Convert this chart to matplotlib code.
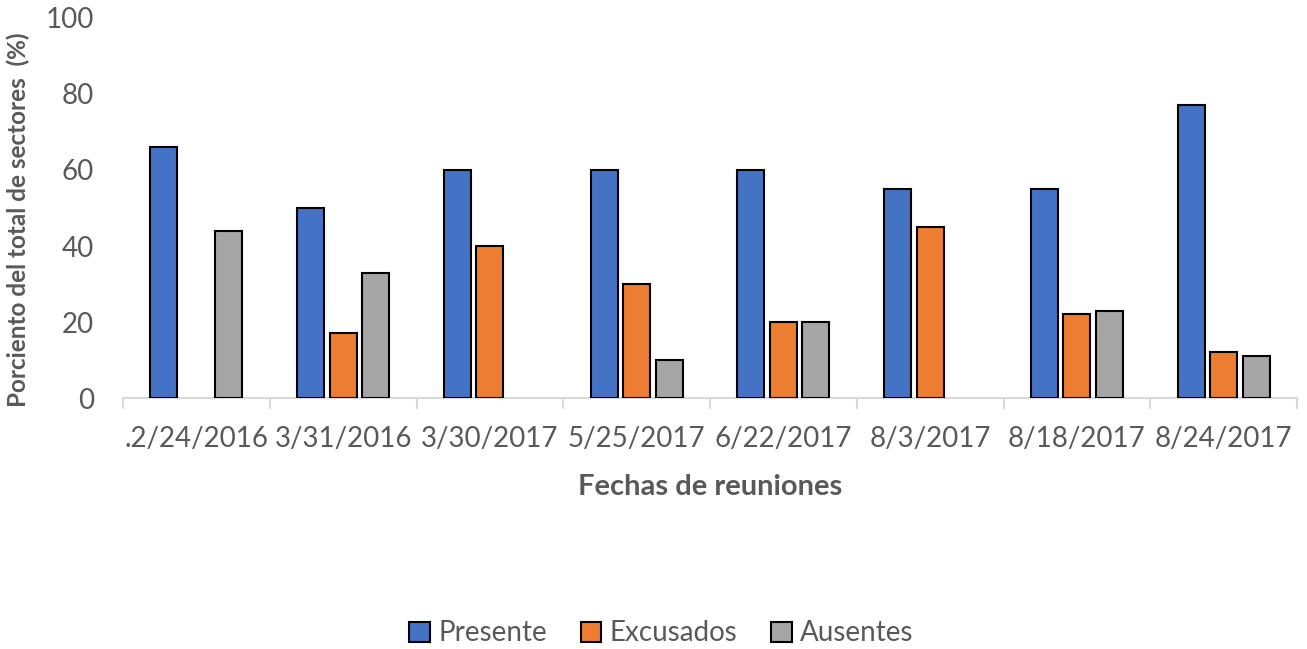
import numpy as np
from matplotlib import pyplot as plt

fechas = ['.2/24/2016', '3/31/2016', '3/30/2017', '5/25/2017',
          '6/22/2017', '8/3/2017', '8/18/2017', '8/24/2017']
presente = [66, 50, 60, 60, 60, 55, 55, 77]
excusados = [0, 17, 40, 30, 20, 45, 22, 12]
ausentes = [44, 33, 0, 10, 20, 0, 23, 11]

series = [('Presente', presente, '#4472C4'),
          ('Excusados', excusados, '#ED7D31'),
          ('Ausentes', ausentes, '#A5A5A5')]

plt.rcParams['font.family'] = ['Lato', 'DejaVu Sans']

fig = plt.figure(figsize=(13.07, 6.49), dpi=100)
ax = fig.add_axes([0.0941, 0.3867, 0.8983, 0.5856])

x = np.arange(len(fechas))
w = 0.184
step = 0.2215
for i, (name, vals, col) in enumerate(series):
    vals = np.array(vals, dtype=float)
    keep = vals > 0
    ax.bar(x[keep] + (i - 1) * step, vals[keep], width=w, color=col,
           edgecolor='black', linewidth=1.5, label=name, zorder=3)

ax.set_xlim(-0.5, len(fechas) - 0.5)
ax.set_ylim(0, 100)
ax.set_yticks(range(0, 101, 20))
ax.set_xticks(x)
ax.set_xticklabels(fechas)
ax.set_xticks(np.arange(len(fechas) + 1) - 0.5, minor=True)

for s in ['top', 'right', 'left']:
    ax.spines[s].set_visible(False)
ax.spines['bottom'].set_color('#d9d9d9')
ax.spines['bottom'].set_linewidth(1.5)

ax.tick_params(axis='x', which='major', length=0, pad=20, labelsize=20, labelcolor='#595959')
ax.tick_params(axis='x', which='minor', length=8, width=1.5, color='#d9d9d9')
ax.tick_params(axis='y', length=0, pad=21, labelsize=20, labelcolor='#595959')

ax.set_xlabel('Fechas de reuniones', fontsize=21, fontweight='bold', color='#595959', labelpad=16)
ax.set_ylabel('Porciento del total de sectores  (%)', fontsize=17.5, fontweight='bold', color='#595959')
ax.yaxis.set_label_coords(-0.079, 0.468)

leg = fig.legend(loc='center', bbox_to_anchor=(0.506, 0.024), ncol=3, frameon=False,
                 fontsize=20, handlelength=0.75, handleheight=0.75, handletextpad=0.3,
                 columnspacing=1.2, labelcolor='#595959')

fig.savefig('out.png', dpi=100)
